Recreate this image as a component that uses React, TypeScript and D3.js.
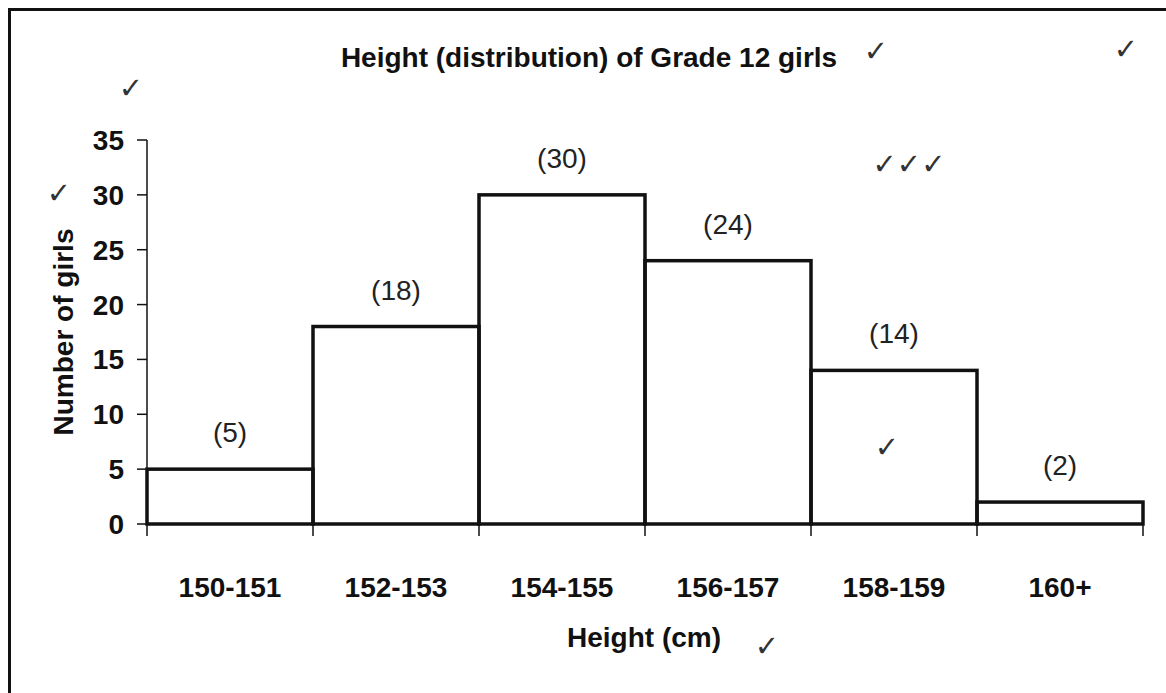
import * as d3 from "d3"

const categories = ["150-151", "152-153", "154-155", "156-157", "158-159", "160+"]
const counts = [5, 18, 30, 24, 14, 2]
const yTicks = [0, 5, 10, 15, 20, 25, 30, 35]

// tick marks as they appear hand-added on the marked worksheet (glyph centres)
const checks = [
  { x: 876, y: 51, mark: "✓" },
  { x: 1126, y: 49, mark: "✓" },
  { x: 131, y: 88, mark: "✓" },
  { x: 59, y: 193, mark: "✓" },
  { x: 909, y: 164, mark: "✓✓✓" },
  { x: 887, y: 447, mark: "✓" },
  { x: 767, y: 646, mark: "✓" },
]

const W = 1166
const H = 693
const margin = { left: 147, right: 23, top: 140, bottom: 169 }
const font = "'Liberation Sans', Arial, Helvetica, sans-serif"
const fs = 28

export default function App() {
  const x = d3
    .scaleBand<string>()
    .domain(categories)
    .range([margin.left, W - margin.right])
    .padding(0)
  const y = d3
    .scaleLinear()
    .domain([0, 35])
    .range([H - margin.bottom, margin.top])

  const bw = x.bandwidth()
  const y0 = y(0)
  const edges = categories.map((c) => x(c)!).concat([x(categories[categories.length - 1])! + bw])

  return (
    <svg
      width={W}
      height={H}
      viewBox={`0 0 ${W} ${H}`}
      style={{ position: "absolute", left: 0, top: 0, background: "#fff", fontFamily: font }}
    >
      <rect x={0} y={0} width={W} height={H} fill="#fff" />
      {/* page frame */}
      <path d={`M9.5,${H} V9.5 H${W}`} fill="none" stroke="#111" strokeWidth={3} />

      <text x={589} y={67} textAnchor="middle" fontSize={fs} fontWeight="bold" fill="#111">
        Height (distribution) of Grade 12 girls
      </text>

      {/* y axis */}
      <line x1={margin.left} x2={margin.left} y1={y(35)} y2={y0} stroke="#111" strokeWidth={1.5} />
      {yTicks.map((t) => (
        <g key={t}>
          <line x1={margin.left - 10} x2={margin.left} y1={y(t)} y2={y(t)} stroke="#111" strokeWidth={1.5} />
          <text x={124} y={y(t) + 10} textAnchor="end" fontSize={fs} fontWeight="bold" fill="#111">
            {t}
          </text>
        </g>
      ))}
      <text
        transform={`translate(73,${(y(35) + y0) / 2}) rotate(-90)`}
        textAnchor="middle"
        fontSize={fs}
        fontWeight="bold"
        fill="#111"
      >
        Number of girls
      </text>

      {/* x axis */}
      <line x1={margin.left} x2={edges[edges.length - 1]} y1={y0} y2={y0} stroke="#111" strokeWidth={1.5} />
      {edges.map((e, i) => (
        <line key={i} x1={e} x2={e} y1={y0} y2={y0 + 12} stroke="#111" strokeWidth={1.5} />
      ))}
      {categories.map((c) => (
        <text key={c} x={x(c)! + bw / 2} y={597} textAnchor="middle" fontSize={fs} fontWeight="bold" fill="#111">
          {c}
        </text>
      ))}
      <text x={644} y={647} textAnchor="middle" fontSize={fs} fontWeight="bold" fill="#111">
        Height (cm)
      </text>

      {/* bars */}
      {categories.map((c, i) => (
        <g key={c}>
          <rect
            x={x(c)!}
            y={y(counts[i])}
            width={bw}
            height={y0 - y(counts[i])}
            fill="none"
            stroke="#111"
            strokeWidth={3.5}
          />
          <text x={x(c)! + bw / 2} y={y(counts[i]) - 27} textAnchor="middle" fontSize={fs} fill="#222">
            ({counts[i]})
          </text>
        </g>
      ))}

      {checks.map((p, i) => (
        <text
          key={i}
          x={p.x}
          y={p.y + 10}
          textAnchor="middle"
          fontSize={29}
          fill="#333"
          fontFamily="'DejaVu Sans', sans-serif"
        >
          {p.mark}
        </text>
      ))}
    </svg>
  )
}
